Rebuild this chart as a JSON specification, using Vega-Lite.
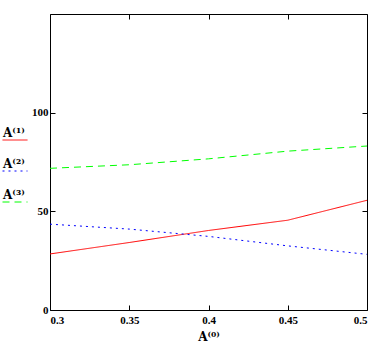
{
  "$schema": "https://vega.github.io/schema/vega-lite/v6.json",
  "width": 317,
  "height": 296,
  "autosize": "none",
  "padding": {"left": 50, "top": 14, "right": 20, "bottom": 44},
  "background": "white",
  "config": {"view": {"stroke": "black", "strokeWidth": 1}},
  "data": {"values": [
    {"x": 0.3, "y": 28.4, "s": "A⁽¹⁾"},
    {"x": 0.35, "y": 34.2, "s": "A⁽¹⁾"},
    {"x": 0.4, "y": 40.3, "s": "A⁽¹⁾"},
    {"x": 0.45, "y": 45.5, "s": "A⁽¹⁾"},
    {"x": 0.5, "y": 55.6, "s": "A⁽¹⁾"},
    {"x": 0.3, "y": 43.5, "s": "A⁽²⁾"},
    {"x": 0.35, "y": 41.0, "s": "A⁽²⁾"},
    {"x": 0.4, "y": 37.3, "s": "A⁽²⁾"},
    {"x": 0.45, "y": 32.5, "s": "A⁽²⁾"},
    {"x": 0.5, "y": 28.2, "s": "A⁽²⁾"},
    {"x": 0.3, "y": 71.8, "s": "A⁽³⁾"},
    {"x": 0.35, "y": 73.6, "s": "A⁽³⁾"},
    {"x": 0.4, "y": 76.6, "s": "A⁽³⁾"},
    {"x": 0.45, "y": 80.5, "s": "A⁽³⁾"},
    {"x": 0.5, "y": 83.1, "s": "A⁽³⁾"}
  ]},
  "layer": [
    {
      "mark": {"type": "line", "strokeWidth": 1},
      "encoding": {
        "x": {"field": "x", "type": "quantitative", "scale": {"domain": [0.3, 0.5], "nice": false, "zero": false},
          "axis": {"orient": "bottom", "values": [0.3, 0.35, 0.4, 0.45, 0.5], "format": "~g", "grid": false, "domain": false,
            "tickSize": -5, "tickColor": "black", "labelFont": "Liberation Serif", "labelFontWeight": "bold", "labelFontSize": 11, "labelColor": "black", "labelPadding": 9,
            "title": "A⁽⁰⁾", "titleFont": "DejaVu Serif", "titleFontSize": 12, "titleFontWeight": "bold", "titleColor": "black", "titlePadding": 6}},
        "y": {"field": "y", "type": "quantitative", "scale": {"domain": [0, 150], "nice": false},
          "axis": {"orient": "left", "values": [0, 50, 100], "grid": false, "domain": false,
            "tickSize": -5, "tickColor": "black", "labelFont": "Liberation Serif", "labelFontWeight": "bold", "labelFontSize": 11, "labelColor": "black", "labelPadding": 7, "title": null}},
        "color": {"field": "s", "type": "nominal", "scale": {"domain": ["A⁽¹⁾", "A⁽²⁾", "A⁽³⁾"], "range": ["#ff0000", "#0000ff", "#00ff00"]},
          "legend": {"orient": "none", "legendX": -48, "legendY": 113, "title": null, "symbolType": "stroke", "symbolSize": 625, "symbolStrokeWidth": 1,
            "labelOffset": -25, "labelBaseline": "bottom", "labelFont": "DejaVu Serif", "labelFontSize": 12, "labelFontWeight": "bold", "labelColor": "black", "rowPadding": 16, "padding": 0}},
        "strokeDash": {"field": "s", "type": "nominal", "scale": {"domain": ["A⁽¹⁾", "A⁽²⁾", "A⁽³⁾"], "range": [[1, 0], [2, 4], [7, 5]]}, "legend": null}
      }
    },
    {
      "mark": {"type": "line", "opacity": 0},
      "encoding": {
        "x": {"field": "x", "type": "quantitative", "axis": {"orient": "top", "values": [0.3, 0.35, 0.4, 0.45, 0.5], "labels": false, "grid": false, "domain": false, "tickSize": -5, "tickColor": "black", "title": null}},
        "y": {"field": "y", "type": "quantitative", "axis": {"orient": "right", "values": [0, 50, 100], "labels": false, "grid": false, "domain": false, "tickSize": -5, "tickColor": "black", "title": null}}
      }
    }
  ],
  "resolve": {"axis": {"x": "independent", "y": "independent"}}
}
